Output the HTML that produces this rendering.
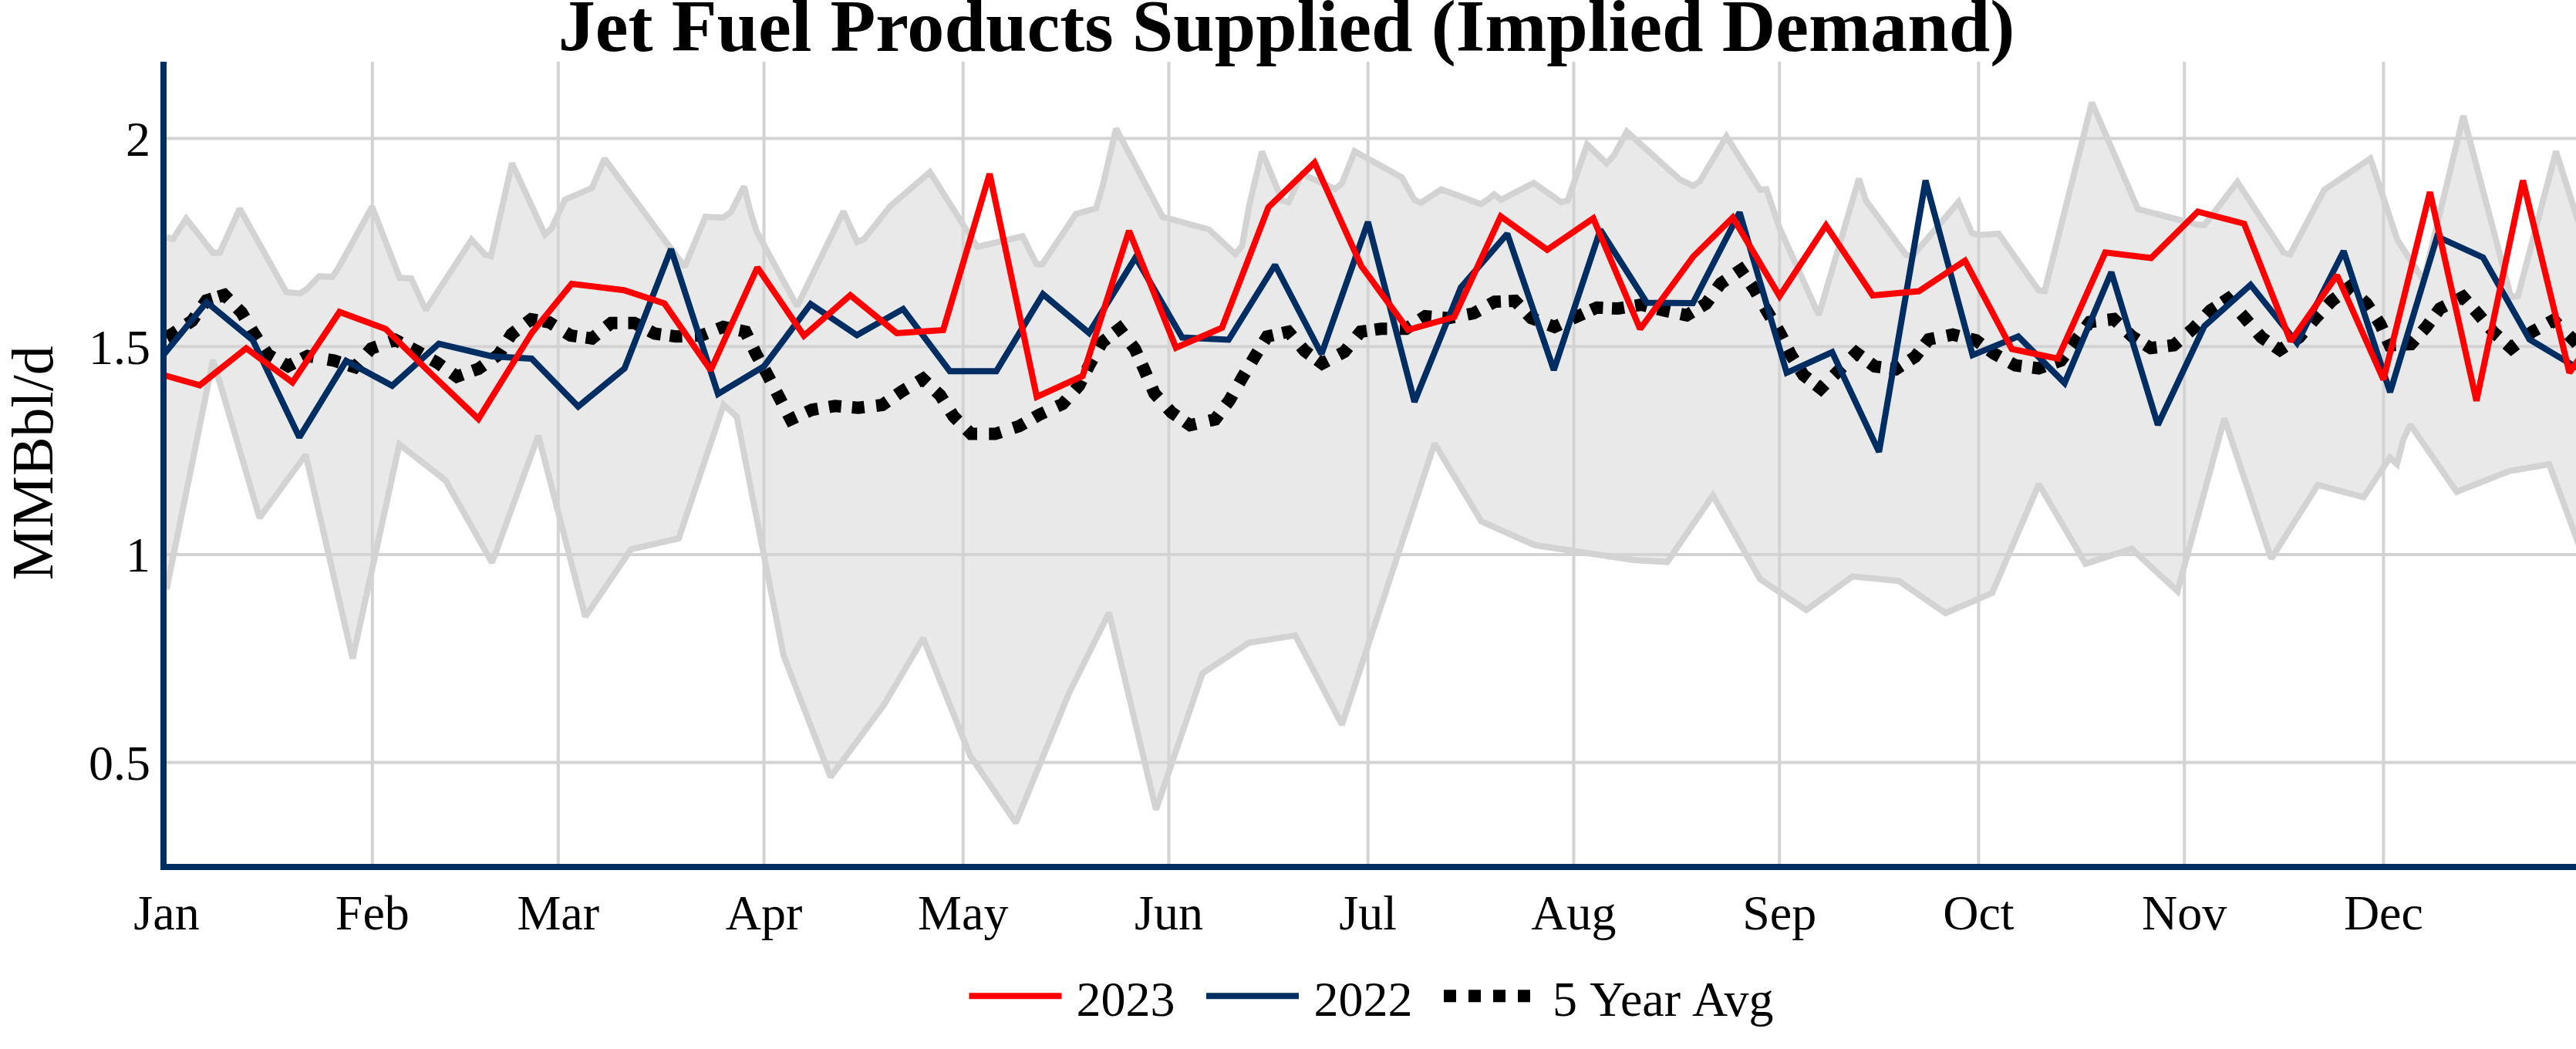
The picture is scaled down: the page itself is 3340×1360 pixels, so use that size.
<!DOCTYPE html>
<html><head><meta charset="utf-8"><title>Jet Fuel Products Supplied (Implied Demand)</title>
<style>html,body{margin:0;padding:0;background:#fff;}body{width:3340px;height:1360px;overflow:hidden;}svg{display:block;}text{font-family:"Liberation Serif",serif;fill:#000;}.t{font-size:64px;}</style></head><body>
<svg width="3340" height="1360" viewBox="0 0 3340 1360">
<rect x="0" y="0" width="3340" height="1360" fill="#fff"/>
<defs><clipPath id="c"><rect x="216" y="80" width="3124" height="1040"/></clipPath></defs>
<g stroke="#d3d3d3" stroke-width="4" fill="none">
<path d="M482.79,80 V1120"/>
<path d="M723.75,80 V1120"/>
<path d="M990.54,80 V1120"/>
<path d="M1248.72,80 V1120"/>
<path d="M1515.51,80 V1120"/>
<path d="M1773.69,80 V1120"/>
<path d="M2040.47,80 V1120"/>
<path d="M2307.26,80 V1120"/>
<path d="M2565.44,80 V1120"/>
<path d="M2832.22,80 V1120"/>
<path d="M3090.4,80 V1120"/>
<path d="M216,179.5 H3340"/>
<path d="M216,449.2 H3340"/>
<path d="M216,718.9 H3340"/>
<path d="M216,988.6 H3340"/>
</g>
<g clip-path="url(#c)" fill="none" stroke-linejoin="miter" stroke-miterlimit="2">
<path d="M216,307.5L224.46,309.73L241.41,283.48L276.54,328.05L285,327.5L310.77,270.54L371.25,378.75L388.75,380.5L397.5,375L413.92,357.99L430.83,359.12L438.75,347.5L482.46,268L518.19,360.18L533.15,360.98L552.04,401.94L611.38,310.79L628.75,330L636.63,332.07L663.79,211.62L706.58,304.05L715,296.25L732.5,258.75L767.5,243.75L783.82,205.59L862.75,312.5L887.67,345.91L914.64,281.04L937.75,282L947.75,275L964.7,241.66L972.75,273.75L981,300L1033.49,396.95L1093.49,274.24L1111.57,313.76L1120.25,310L1154,267.5L1205.72,223.11L1266.97,320.07L1325.84,306.42L1344,342.5L1351.12,342.89L1395,277.5L1421.25,270L1430,240L1447.05,166.66L1507.5,281.25L1567.5,297.5L1601.81,329.39L1610.5,318.75L1620,265L1636.28,196.62L1662.5,260L1670.6,262.17L1688.12,225.42L1731.07,245.07L1740,237.5L1756.39,196.25L1817.5,230L1833.75,258.75L1842.45,262.85L1868.82,245.57L1919.94,264.47L1928.75,259L1937.18,251.82L1946.04,258.96L1988.69,237.18L2024.08,262.08L2032.75,260L2057.75,187.34L2083.17,211.87L2092.75,201.25L2109.36,170.72L2177.75,232.5L2195.16,241.03L2204,235L2238.52,176.89L2282.01,246.01L2290.24,245.34L2307.5,296L2358.22,408.34L2410.25,231.6L2419.25,260L2471,330L2479.19,332.65L2539.4,261.85L2556.75,302L2565.5,304.75L2591.46,303.13L2643.25,376.25L2651.13,377.25L2712.28,132.88L2772,271L2849.5,291.25L2858.2,291.79L2900.94,235.88L2961,327.5L2969.44,329.72L3013.5,246.25L3073.36,205.42L3108.5,311.25L3142.42,363.53L3194,150.29L3255.62,384.8L3264.75,383.75L3314.01,196.33L3340,278L3360,341L3360,752L3340,696L3305.22,601.87L3254,610.5L3185.23,637.57L3125.05,550.58L3116,570L3107.88,601.77L3098.76,593.24L3064.52,644.73L3005.28,628.57L2944.86,724.3L2884.01,542.64L2823.36,766.52L2763.82,711.62L2704.04,730.93L2643.53,627.83L2583,768.8L2522.56,794.86L2462,753.2L2402.02,747.28L2341.98,790.85L2282,750.8L2220.91,642.32L2161.68,728.55L2118,726L1990,706.8L1920.8,676L1860.06,575L1739.96,939.54L1679.46,823.89L1619.2,833.2L1559.2,872.8L1498.82,1049.67L1437.95,794.41L1386,898.8L1317.14,1066.64L1258,980L1196.96,827.53L1146,914L1076.88,1007.43L1016,850L955.25,540L938.28,524.73L880,698L818.4,712L758.88,799.51L697.98,564.85L637.96,729.5L577.8,623L517.77,576.16L457.2,853.74L396.4,589.49L336.59,671.48L276.26,466.54L216,764Z" fill="rgba(211,211,211,0.5)" stroke="none"/>
<path d="M216,764L276.26,466.54L336.59,671.48L396.4,589.49L457.2,853.74L517.77,576.16L577.8,623L637.96,729.5L697.98,564.85L758.88,799.51L818.4,712L880,698L938.28,524.73L955.25,540L1016,850L1076.88,1007.43L1146,914L1196.96,827.53L1258,980L1317.14,1066.64L1386,898.8L1437.95,794.41L1498.82,1049.67L1559.2,872.8L1619.2,833.2L1679.46,823.89L1739.96,939.54L1860.06,575L1920.8,676L1990,706.8L2118,726L2161.68,728.55L2220.91,642.32L2282,750.8L2341.98,790.85L2402.02,747.28L2462,753.2L2522.56,794.86L2583,768.8L2643.53,627.83L2704.04,730.93L2763.82,711.62L2823.36,766.52L2884.01,542.64L2944.86,724.3L3005.28,628.57L3064.52,644.73L3098.76,593.24L3107.88,601.77L3116,570L3125.05,550.58L3185.23,637.57L3254,610.5L3305.22,601.87L3340,696L3360,752" stroke="#d3d3d3" stroke-width="8"/>
<path d="M216,307.5L224.46,309.73L241.41,283.48L276.54,328.05L285,327.5L310.77,270.54L371.25,378.75L388.75,380.5L397.5,375L413.92,357.99L430.83,359.12L438.75,347.5L482.46,268L518.19,360.18L533.15,360.98L552.04,401.94L611.38,310.79L628.75,330L636.63,332.07L663.79,211.62L706.58,304.05L715,296.25L732.5,258.75L767.5,243.75L783.82,205.59L862.75,312.5L887.67,345.91L914.64,281.04L937.75,282L947.75,275L964.7,241.66L972.75,273.75L981,300L1033.49,396.95L1093.49,274.24L1111.57,313.76L1120.25,310L1154,267.5L1205.72,223.11L1266.97,320.07L1325.84,306.42L1344,342.5L1351.12,342.89L1395,277.5L1421.25,270L1430,240L1447.05,166.66L1507.5,281.25L1567.5,297.5L1601.81,329.39L1610.5,318.75L1620,265L1636.28,196.62L1662.5,260L1670.6,262.17L1688.12,225.42L1731.07,245.07L1740,237.5L1756.39,196.25L1817.5,230L1833.75,258.75L1842.45,262.85L1868.82,245.57L1919.94,264.47L1928.75,259L1937.18,251.82L1946.04,258.96L1988.69,237.18L2024.08,262.08L2032.75,260L2057.75,187.34L2083.17,211.87L2092.75,201.25L2109.36,170.72L2177.75,232.5L2195.16,241.03L2204,235L2238.52,176.89L2282.01,246.01L2290.24,245.34L2307.5,296L2358.22,408.34L2410.25,231.6L2419.25,260L2471,330L2479.19,332.65L2539.4,261.85L2556.75,302L2565.5,304.75L2591.46,303.13L2643.25,376.25L2651.13,377.25L2712.28,132.88L2772,271L2849.5,291.25L2858.2,291.79L2900.94,235.88L2961,327.5L2969.44,329.72L3013.5,246.25L3073.36,205.42L3108.5,311.25L3142.42,363.53L3194,150.29L3255.62,384.8L3264.75,383.75L3314.01,196.33L3340,278L3360,341" stroke="#d3d3d3" stroke-width="8"/>
<path d="M215.77,437.12L222.8,433.3L229.46,428.87M242.44,420.23L249.1,415.8L253.7,409.25M262.9,396.15L267.5,389.6L275.15,387.25M283.25,384.75L290.9,382.4L296.49,388.12M307.61,399.48L313.2,405.2L317.27,412.09M325.73,426.41L329.8,433.3L334.23,439.96M342.87,452.94L347.3,459.6L354.24,463.57M366.56,470.63L373.5,474.6L380.6,470.92M391.7,465.18L398.8,461.5L406.68,462.87M424.92,466.03L432.8,467.4L440.42,469.83M452.48,473.67L460.1,476.1L465.39,470.1M476.21,457.8L481.5,451.8L489.03,449.11M505.07,443.39L512.6,440.7L519.71,444.36M532.69,451.04L539.8,454.7L546.74,458.68M560.06,466.32L567,470.3L573.53,474.92M585.77,483.58L592.3,488.2L599.83,485.5M612.97,480.8L620.5,478.1L627.04,473.5M640.26,464.2L646.8,459.6L651.05,452.82M659.05,440.08L663.3,433.3L669.65,428.43M682.25,418.77L688.6,413.9L696.49,415.22M704.01,416.48L711.9,417.8L718.72,421.98M733.18,430.82L740,435L747.93,436.08M759.57,437.67L767.5,438.75L773.75,433.75M786.25,423.75L792.5,418.75L800.5,418.75M814.5,418.75L822.5,418.75L829.6,422.43M841.9,428.82L849,432.5L856.93,433.58M868.57,435.17L876.5,436.25L884.49,435.94M901.01,435.31L909,435L916.45,432.08M930.3,426.67L937.75,423.75L945.57,425.45M958.68,428.3L966.5,430L969.95,437.22M976.8,451.53L980.25,458.75L984.08,465.77M991.42,479.23L995.25,486.25L998.95,493.34M1006.55,507.91L1010.25,515L1013.95,522.09M1021.55,536.66L1025.25,543.75L1032.53,540.44M1045.47,534.56L1052.75,531.25L1060.64,529.93M1074.86,527.57L1082.75,526.25L1090.72,526.91M1104.78,528.09L1112.75,528.75L1120.69,527.8M1136.06,525.95L1144,525L1150.55,520.41M1162.45,512.09L1169,507.5L1175.89,503.43M1189.61,495.32L1196.5,491.25L1202.32,496.74M1213.18,507.01L1219,512.5L1223.3,519.25M1232.2,533.25L1236.5,540L1242.16,545.66M1253.34,556.84L1259,562.5L1267,562.5M1282.25,562.5L1290.25,562.5L1297.87,560.06M1313.88,554.94L1321.5,552.5L1328.45,548.53M1340.8,541.47L1347.75,537.5L1355.02,534.17M1370.48,527.08L1377.75,523.75L1383.08,517.79M1393.67,505.96L1399,500L1402.58,492.84M1409.17,479.66L1412.75,472.5L1416.69,465.54M1425.06,450.71L1429,443.75L1435.31,438.84M1445.19,431.16L1451.5,426.25L1456.35,432.61M1466.65,446.14L1471.5,452.5L1474.81,459.78M1480.69,472.72L1484,480L1487.13,487.36M1493.62,502.64L1496.75,510L1502.1,515.95M1513.9,529.05L1519.25,535L1525.85,539.52M1536.4,546.73L1543,551.25L1550.8,549.45M1567.7,545.55L1575.5,543.75L1580.3,537.35M1589.45,525.15L1594.25,518.75L1598.19,511.79M1606.56,496.96L1610.5,490L1614.57,483.11M1622.68,469.39L1626.75,462.5L1630.96,455.7M1638.79,443.05L1643,436.25L1650.8,434.48M1662.7,431.77L1670.5,430L1675.68,436.1M1686.57,448.9L1691.75,455L1698.24,459.68M1707.76,466.57L1714.25,471.25L1721.34,467.55M1735.91,459.95L1743,456.25L1748.03,450.03M1759.22,436.22L1764.25,430L1772.17,428.87M1782.58,427.38L1790.5,426.25L1798.5,426.25M1815,426.25L1823,426.25L1829.71,421.89M1841.29,414.36L1848,410L1855.97,410.66M1870.03,411.84L1878,412.5L1885.86,410.99M1902.64,407.76L1910.5,406.25L1917.52,402.42M1930.98,395.08L1938,391.25L1945.99,390.87M1956.26,390.38L1964.25,390L1969.74,395.82M1980.01,406.68L1985.5,412.5L1992.99,415.31M2008.01,420.94L2015.5,423.75L2022.77,420.42M2038.23,413.33L2045.5,410L2052.8,406.72M2063.2,402.03L2070.5,398.75L2078.49,399.11M2090.01,399.64L2098,400L2105.89,398.68M2120.11,396.32L2128,395L2135.75,397M2149.25,400.5L2157,402.5L2164.83,404.13M2179.17,407.12L2187,408.75L2193.86,404.63M2205.14,397.87L2212,393.75L2216.69,387.27M2226.31,373.98L2231,367.5L2237.64,363.03M2250.36,354.47L2257,350L2261.59,356.55M2269.91,368.45L2274.5,375L2278.53,381.91M2287.97,398.09L2292,405L2296.07,411.89M2304.18,425.61L2308.25,432.5L2311.83,439.66M2318.42,452.84L2322,460L2326.21,466.8M2334.04,479.45L2338.25,486.25L2344.56,491.16M2354.44,498.84L2360.75,503.75L2366.41,498.09M2377.59,486.91L2383.25,481.25L2388.91,475.59M2401.34,463.16L2407,457.5L2413.44,462.25M2424.31,470.25L2430.75,475L2438.68,476.08M2450.32,477.67L2458.25,478.75L2464.96,474.39M2476.54,466.86L2483.25,462.5L2488.16,456.19M2495.84,446.31L2500.75,440L2508.59,438.43M2524.16,435.32L2532,433.75L2539.76,435.69M2554.24,439.31L2562,441.25L2568.44,446M2579.31,454L2585.75,458.75L2592.77,462.58M2606.23,469.92L2613.25,473.75L2621.19,474.74M2635.31,476.51L2643.25,477.5L2650.81,474.87M2664.44,470.13L2672,467.5L2676.8,461.1M2685.95,448.9L2690.75,442.5L2695.55,436.1M2704.7,423.9L2709.5,417.5L2717.44,416.55M2732.81,414.7L2740.75,413.75L2746.56,419.25M2758.69,430.75L2764.5,436.25L2771.28,440.49M2781.72,447.01L2788.5,451.25L2796.44,450.26M2810.56,448.49L2818.5,447.5L2824.6,442.32M2837.4,431.43L2843.5,426.25L2849,420.44M2860.5,408.31L2866,402.5L2872.66,398.06M2881.84,391.94L2888.5,387.5L2893.85,393.45M2905.65,406.55L2911,412.5L2916.18,418.6M2927.07,431.4L2932.25,437.5L2938.85,442.02M2949.4,449.23L2956,453.75L2962.71,449.39M2974.29,441.86L2981,437.5L2986.18,431.4M2997.07,418.6L3002.25,412.5L3007.74,406.68M3018.01,395.82L3023.5,390L3029.81,385.09M3039.69,377.41L3046,372.5L3051.82,377.99M3062.68,388.26L3068.5,393.75L3072.94,400.41M3081.56,413.34L3086,420L3089.31,427.28M3095.19,440.22L3098.5,447.5L3106.49,447.14M3118.01,446.61L3126,446.25L3131.31,440.27M3140.69,429.73L3146,423.75L3150.75,417.31M3158.75,406.44L3163.5,400L3170.66,396.42M3186.34,388.58L3193.5,385L3198.81,390.98M3208.19,401.52L3213.5,407.5L3218.65,413.62M3228.35,425.13L3233.5,431.25L3239.48,436.56M3250.02,445.94L3256,451.25L3262.33,446.36M3277.17,434.89L3283.5,430L3290.52,426.17M3303.98,418.83L3311,415L3316.66,420.66M3330.34,434.34L3336,440L3341.31,445.98" stroke="#000" stroke-width="16"/>
<path d="M207.39,465.6L267.8,391.72L327.88,441.25L388.15,566.93L448.79,467.88L508.46,500.02L568.99,445.56L637.7,462L689.33,465L749.66,527.1L809.81,477.5L870.04,322.9L930.98,510.67L990.54,475L1051.05,394.17L1111.06,434.54L1170.95,400.6L1231.51,481.25L1291.75,481.25L1352.28,381.37L1411.94,431.63L1472.46,333.65L1532.72,437.5L1593,440.5L1653.2,343.5L1713.4,459L1773.67,287.85L1833.95,520.88L1894.17,372.5L1954.3,303.08L2014.65,479.62L2074.96,298.01L2135.14,392.5L2194.94,393.01L2255.58,275.44L2316.62,483.28L2375.53,456.63L2436.3,585.9L2496.6,234L2557.63,460.33L2616.85,436.11L2676.91,496.58L2737.54,352.9L2797.83,550.82L2858.04,423L2918.13,369.28L2978.31,444.73L3038.74,325.45L3099,508.39L3160,306.69L3219.49,333.75L3279.74,440L3339.98,476L3400.22,500" stroke="#002d62" stroke-width="8"/>
<path d="M198.79,482.5L258.92,499.47L319.29,451.46L379.22,495.74L440.22,404.43L500,426.5L560.24,485.75L620.24,543.08L689.5,431.5L741.2,368.09L809,376.2L861.45,393.5L921.46,479.92L981.98,346.84L1042.4,435.16L1102.46,382.85L1162.7,431.88L1222.9,428L1283.13,225.29L1344.25,514.51L1403.63,487.5L1463.88,299.15L1524.77,450.88L1584.35,425L1644.6,268.75L1704.45,210.83L1765.08,345L1825.69,427.68L1885.56,411L1945.81,280.5L2006.06,323.78L2065.78,283.1L2126.53,426.5L2195.5,332.5L2246.76,281.98L2307.31,383.91L2367.51,292.24L2428.1,383.01L2487.98,377.5L2547.78,338.01L2608.47,452.5L2668.01,464.87L2729.6,327.4L2789.05,334.56L2849.62,274.44L2909.68,290L2969.99,442.44L3030.11,356.83L3090.37,492.11L3150.64,249.02L3210.89,519.75L3271.13,234.01L3331.46,483.27L3391.61,396" stroke="#ff0000" stroke-width="8"/>
</g>
<rect x="208" y="80" width="8" height="1048" fill="#002d62"/>
<rect x="208" y="1120" width="3132" height="8" fill="#002d62"/>
<text class="t" x="216" y="1204.5" text-anchor="middle">Jan</text>
<text class="t" x="482.79" y="1204.5" text-anchor="middle">Feb</text>
<text class="t" x="723.75" y="1204.5" text-anchor="middle">Mar</text>
<text class="t" x="990.54" y="1204.5" text-anchor="middle">Apr</text>
<text class="t" x="1248.72" y="1204.5" text-anchor="middle">May</text>
<text class="t" x="1515.51" y="1204.5" text-anchor="middle">Jun</text>
<text class="t" x="1773.69" y="1204.5" text-anchor="middle">Jul</text>
<text class="t" x="2040.47" y="1204.5" text-anchor="middle">Aug</text>
<text class="t" x="2307.26" y="1204.5" text-anchor="middle">Sep</text>
<text class="t" x="2565.44" y="1204.5" text-anchor="middle">Oct</text>
<text class="t" x="2832.22" y="1204.5" text-anchor="middle">Nov</text>
<text class="t" x="3090.4" y="1204.5" text-anchor="middle">Dec</text>
<text class="t" x="195" y="202" text-anchor="end">2</text>
<text class="t" x="195" y="471.7" text-anchor="end">1.5</text>
<text class="t" x="195" y="741.4" text-anchor="end">1</text>
<text class="t" x="195" y="1011.1" text-anchor="end">0.5</text>
<text x="1668" y="66" text-anchor="middle" font-size="96.25" font-weight="bold">Jet Fuel Products Supplied (Implied Demand)</text>
<text transform="translate(68,600.2) rotate(-90)" text-anchor="middle" font-size="76">MMBbl/d</text>
<path d="M1256.5,1291.3 H1376.5" stroke="#ff0000" stroke-width="8"/>
<text class="t" x="1395.5" y="1317.3">2023</text>
<path d="M1564,1291.3 H1684" stroke="#002d62" stroke-width="8"/>
<text class="t" x="1703.5" y="1317.3">2022</text>
<path d="M1872,1291.3 H1992" stroke="#000" stroke-width="16" stroke-dasharray="16,16"/>
<text class="t" x="2013" y="1317.3" word-spacing="2.5">5 Year Avg</text>
</svg></body></html>
